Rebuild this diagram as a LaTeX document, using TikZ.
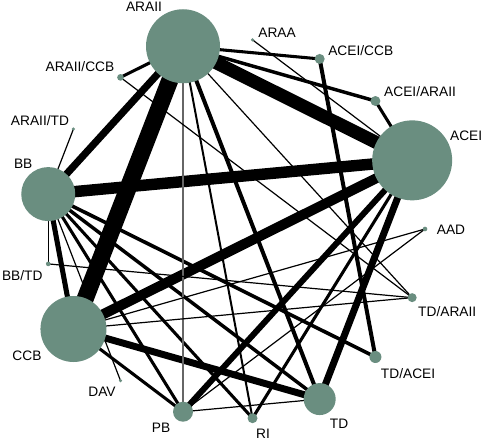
\documentclass[tikz,border=0pt]{standalone}
\usepackage{fontspec}
\setmainfont{Liberation Sans}
\usetikzlibrary{positioning}
\usetikzlibrary{backgrounds}
\definecolor{trtgreen}{RGB}{106,142,128}
\tikzset{trt/.style={circle,fill=trtgreen,draw=none,inner sep=0pt}}
\tikzset{trtname/.style={inner sep=0pt,font=\fontsize{10.3}{12}\selectfont}}
\tikzset{cmp/.style={draw=black,line width=#1}}

\begin{document}
\begin{tikzpicture}[x=0.75pt,y=0.75pt]
        \useasboundingbox (-235,-212) rectangle (249,229);

        % treatments, evenly spaced on the circle
        \node[trt,minimum size=3.5pt] (aad) at (0:190) {};
        \node[trt,minimum size=60pt] (acei) at (21.18:190) {};
        \node[trt,minimum size=7.5pt] (aceiAraii) at (42.35:190) {};
        \node[trt,minimum size=7.5pt] (aceiCcb) at (63.53:190) {};
        \node[trt,minimum size=2.6pt] (araa) at (84.71:190) {};
        \node[trt,minimum size=55.5pt] (araii) at (105.88:190) {};
        \node[trt,minimum size=5pt] (araiiCcb) at (127.06:190) {};
        \node[trt,minimum size=2.6pt] (araiiTd) at (148.24:190) {};
        \node[trt,minimum size=40.5pt] (bb) at (169.41:190) {};
        \node[trt,minimum size=3.5pt] (bbTd) at (190.59:190) {};
        \node[trt,minimum size=49.5pt] (ccb) at (211.76:190) {};
        \node[trt,minimum size=2.6pt] (dav) at (232.94:190) {};
        \node[trt,minimum size=15pt] (pb) at (254.12:190) {};
        \node[trt,minimum size=7.5pt] (ri) at (275.29:190) {};
        \node[trt,minimum size=24pt] (td) at (296.47:190) {};
        \node[trt,minimum size=9pt] (tdAcei) at (317.65:190) {};
        \node[trt,minimum size=6.75pt] (tdAraii) at (338.82:190) {};

        % names
        \node[trtname] (aadName) at ([xshift=19.5pt,yshift=-0.8pt]aad) {AAD};
        \node[trtname] (aceiName) at ([xshift=40.5pt,yshift=18.8pt]acei) {ACEI};
        \node[trtname] (aceiAraiiName) at ([xshift=33.5pt,yshift=6.8pt]aceiAraii) {ACEI/ARAII};
        \node[trtname] (aceiCcbName) at ([xshift=30.8pt,yshift=6pt]aceiCcb) {ACEI/CCB};
        \node[trtname] (araaName) at ([xshift=18.4pt,yshift=5.3pt]araa) {ARAA};
        \node[trtname] (araiiName) at ([xshift=-29.3pt,yshift=29.3pt]araii) {ARAII};
        \node[trtname] (araiiCcbName) at ([xshift=-30.4pt,yshift=7.8pt]araiiCcb) {ARAII/CCB};
        \node[trtname] (araiiTdName) at ([xshift=-25.1pt,yshift=6pt]araiiTd) {ARAII/TD};
        \node[trtname] (bbName) at ([xshift=-18.8pt,yshift=22.5pt]bb) {BB};
        \node[trtname] (bbTdName) at ([xshift=-19.5pt,yshift=-9pt]bbTd) {BB/TD};
        \node[trtname] (ccbName) at ([xshift=-34.9pt,yshift=-20.3pt]ccb) {CCB};
        \node[trtname] (davName) at ([xshift=-13.9pt,yshift=-8.6pt]dav) {DAV};
        \node[trtname] (pbName) at ([xshift=-16.5pt,yshift=-12.2pt]pb) {PB};
        \node[trtname] (riName) at ([xshift=7.9pt,yshift=-12pt]ri) {RI};
        \node[trtname] (tdName) at ([xshift=14.5pt,yshift=-18.8pt]td) {TD};
        \node[trtname] (tdAceiName) at ([xshift=24.5pt,yshift=-12.8pt]tdAcei) {TD/ACEI};
        \node[trtname] (tdAraiiName) at ([xshift=26.3pt,yshift=-10.8pt]tdAraii) {TD/ARAII};

        % comparisons, width by number of studies
        \begin{scope}[on background layer]
        \draw[cmp=12.8pt] (araii.center) -- (ccb.center);
        \draw[cmp=9.8pt] (araii.center) -- (acei.center);
        \draw[cmp=8.6pt] (bb.center) -- (acei.center);
        \draw[cmp=7.5pt] (ccb.center) -- (acei.center);
        \draw[cmp=5.4pt] (araii.center) -- (bb.center);
        \draw[cmp=5.2pt] (ccb.center) -- (td.center);
        \draw[cmp=5.2pt] (acei.center) -- (td.center);
        \draw[cmp=4.5pt] (acei.center) -- (pb.center);
        \draw[cmp=3.8pt] (bb.center) -- (ccb.center);
        \draw[cmp=3pt] (araii.center) -- (td.center);
        \draw[cmp=3pt] (aceiCcb.center) -- (tdAcei.center);
        \draw[cmp=2.7pt] (bb.center) -- (tdAcei.center);
        \draw[cmp=2.6pt] (bb.center) -- (td.center);
        \draw[cmp=2.6pt] (araii.center) -- (aceiAraii.center);
        \draw[cmp=2.3pt] (araii.center) -- (aceiCcb.center);
        \draw[cmp=2.3pt] (araii.center) -- (araiiCcb.center);
        \draw[cmp=2.3pt] (bb.center) -- (ri.center);
        \draw[cmp=2.3pt] (bb.center) -- (pb.center);
        \draw[cmp=2.3pt] (ccb.center) -- (pb.center);
        \draw[cmp=2.3pt] (acei.center) -- (ri.center);
        \draw[cmp=2.3pt] (acei.center) -- (aceiAraii.center);
        \draw[cmp=1.5pt] (araii.center) -- (ri.center);
        \draw[cmp=1.1pt,draw=black!60] (araii.center) -- (pb.center);
        \draw[cmp=0.9pt] (araa.center) -- (acei.center);
        \draw[cmp=0.9pt] (araii.center) -- (tdAraii.center);
        \draw[cmp=0.9pt] (araiiCcb.center) -- (tdAraii.center);
        \draw[cmp=0.9pt] (bbTd.center) -- (tdAraii.center);
        \draw[cmp=0.9pt] (ccb.center) -- (tdAraii.center);
        \draw[cmp=0.9pt] (ccb.center) -- (aad.center);
        \draw[cmp=0.9pt] (pb.center) -- (aad.center);
        \draw[cmp=0.9pt] (pb.center) -- (td.center);
        \draw[cmp=0.9pt] (bb.center) -- (dav.center);
        \draw[cmp=0.9pt] (bb.center) -- (bbTd.center);
        \draw[cmp=0.9pt] (bb.center) -- (araiiTd.center);
        \end{scope}

    \end{tikzpicture}
\end{document}
